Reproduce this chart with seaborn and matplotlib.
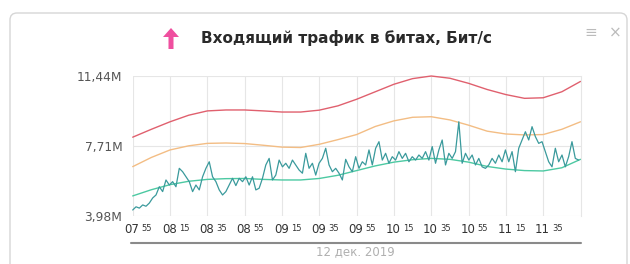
import numpy as np
import seaborn as sns
import matplotlib.pyplot as plt
from matplotlib.patches import FancyBboxPatch, Polygon
from matplotlib.lines import Line2D

sns.set_theme(style='white')
plt.rcParams['font.family'] = ['DejaVu Sans']

# time axis in minutes of the day, 07:55 .. 11:55
smooth_minutes = list(range(475, 716, 10))
# upper / middle / lower bands, millions of bit/s
upper_band = [8.18, 8.6, 9.0, 9.35, 9.58, 9.63, 9.63, 9.58, 9.52, 9.52, 9.62, 9.85, 10.2,
              10.6, 11.0, 11.3, 11.44, 11.32, 11.05, 10.72, 10.45, 10.25, 10.28, 10.6, 11.15]
middle_band = [6.61, 7.1, 7.5, 7.72, 7.85, 7.87, 7.84, 7.75, 7.65, 7.63, 7.8, 8.05, 8.32,
               8.75, 9.05, 9.24, 9.27, 9.1, 8.82, 8.5, 8.35, 8.3, 8.32, 8.6, 9.0]
lower_band = [5.05, 5.38, 5.65, 5.83, 5.93, 5.97, 5.98, 5.93, 5.9, 5.9, 5.98, 6.15, 6.4,
              6.65, 6.85, 6.98, 7.05, 7.0, 6.85, 6.62, 6.48, 6.4, 6.38, 6.55, 7.0]
# measured incoming traffic
traffic = [4.3, 4.47, 4.4, 4.57, 4.5, 4.67, 4.94, 5.1, 5.54, 5.28, 5.9, 5.63, 5.81, 5.54,
           6.52, 6.34, 6.07, 5.81, 5.28, 5.63, 5.37, 6.07, 6.52, 6.87, 6.07, 5.81, 5.37, 5.1,
           5.28, 5.63, 5.99, 5.6,
           5.99, 5.81, 6.07, 5.63, 6.07, 5.37, 5.46, 5.99, 6.7, 7.05, 5.9, 6.16, 6.96, 6.6,
           6.79, 6.52, 6.96, 6.7, 6.43, 6.26, 7.32, 6.52, 6.79, 6.16, 6.79, 7.05, 7.59, 6.7,
           6.34, 6.52, 6.26, 5.9, 7.0,
           6.6, 6.34, 7.14, 6.52, 6.87, 6.7, 7.5, 6.7, 7.59, 7.94, 6.96, 7.32, 6.79, 7.14,
           6.96, 7.41, 7.05, 7.32, 6.87, 7.14, 6.96, 7.23, 7.05, 7.41, 6.96, 7.68, 6.79, 7.5,
           8.03, 6.7, 7.32, 7.05, 7.41,
           9.0, 6.79, 7.32, 6.96, 7.23, 6.7, 7.05, 6.6, 6.52, 6.7, 7.05, 6.79, 7.23, 6.87,
           7.5, 6.87, 7.41, 6.34, 7.59, 8.03, 8.47, 8.03, 8.74, 8.21, 7.85, 7.94, 7.41, 6.87,
           6.6, 7.59, 6.87, 7.23, 6.6, 7.14, 7.94, 7.05, 6.96]
traffic_minutes = np.linspace(475, 714, len(traffic))

y_ticks = [3.98, 7.71, 11.44]
y_labels = ['3,98M', '7,71M', '11,44M']
x_ticks = list(range(475, 700, 20))
title = 'Входящий трафик в битах, Бит/с'
date_label = '12 дек. 2019'

fig = plt.figure(figsize=(6.3, 2.64), dpi=100)
W, H = 630, 264

card = FancyBboxPatch((0.10, -0.2), 6.17, 2.71, boxstyle='round,pad=0,rounding_size=0.07',
                      transform=fig.dpi_scale_trans, fc='white', ec='#d6d6d6', lw=1, zorder=0)
fig.add_artist(card)

ax = fig.add_axes([132.7 / W, 1 - 216 / H, (580.5 - 132.7) / W, (216 - 76) / H])
ax.set_facecolor('none')

sns.lineplot(x=smooth_minutes, y=upper_band, ax=ax, color='#e0606e', lw=1.0, estimator=None)
sns.lineplot(x=smooth_minutes, y=middle_band, ax=ax, color='#f3bd84', lw=1.0, estimator=None)
sns.lineplot(x=smooth_minutes, y=lower_band, ax=ax, color='#4cc9a2', lw=1.0, estimator=None)
sns.lineplot(x=traffic_minutes, y=traffic, ax=ax, color='#3a9a9c', lw=0.9, estimator=None)
for ln in ax.lines:
    ln.set_clip_on(False)

ax.set_xlim(475, 715)
ax.set_ylim(y_ticks[0], y_ticks[-1])
ax.set_yticks(y_ticks)
ax.set_yticklabels(y_labels, fontsize=8.8, color='#555555')
ax.set_xticks(x_ticks)
ax.set_xticklabels([])
ax.tick_params(length=0, axis='y', pad=7.5)
ax.tick_params(length=0, axis='x')
ax.grid(True, color='#e6e6e6', lw=0.8)
for side in ['top', 'left', 'bottom']:
    ax.spines[side].set_visible(False)
ax.spines['right'].set_color('#e6e6e6')
ax.spines['right'].set_linewidth(0.8)

for m in x_ticks:
    ax.annotate(f'{m // 60:02d}', xy=(m, 0), xycoords=('data', 'axes fraction'),
                xytext=(-0.5, -9.5), textcoords='offset points', ha='center', va='center',
                fontsize=8.5, color='#333333')
    ax.annotate(f'{m % 60:02d}', xy=(m, 0), xycoords=('data', 'axes fraction'),
                xytext=(6.5, -9.0), textcoords='offset points', ha='left', va='center',
                fontsize=6, color='#333333')

# navigator bar and date
fig.add_artist(Line2D([131 / W, 581 / W], [1 - 242.7 / H] * 2, transform=fig.transFigure,
                      color='#8a8a8a', lw=1.5))
fig.text(355 / W, 1 - 252 / H, date_label, ha='center', va='center', fontsize=8.5,
         color='#b0b0b0')

# title with arrow icon
fig.text(201 / W, 1 - 38 / H, title, ha='left', va='center', fontsize=11, color='#2a2a2a',
         fontweight='bold')
arrow_px = [(171, 28), (179, 37), (173.5, 37), (173.5, 49), (168.5, 49), (168.5, 37), (163, 37)]
fig.add_artist(Polygon([(x / W, 1 - y / H) for x, y in arrow_px], closed=True,
                       transform=fig.transFigure, fc='#ef4f9f', ec='none'))
fig.text(591 / W, 1 - 33 / H, '≡', ha='center', va='center', fontsize=11, color='#bbbbbb')
fig.text(615 / W, 1 - 33 / H, '×', ha='center', va='center', fontsize=11, color='#bbbbbb')

fig.savefig('out.png', dpi=100)
